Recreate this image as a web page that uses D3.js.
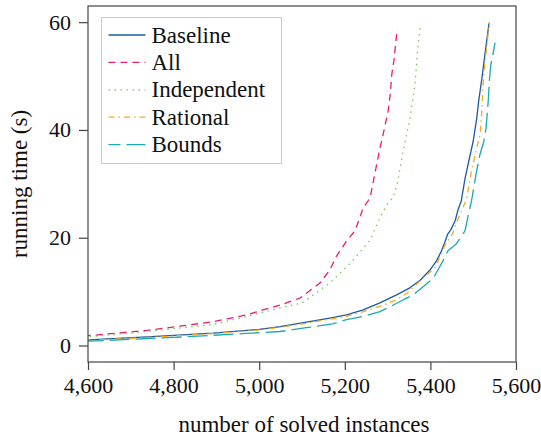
<!DOCTYPE html>
<html>
<head>
<meta charset="utf-8">
<script src="https://cdn.jsdelivr.net/npm/d3@7"></script>
</head>
<body style="margin:0">
<svg id="chart" width="541" height="437"></svg>
<script>
// -------------------------------------------------------------------------
// Data (number of solved instances, running time in seconds)

const seriesNames = ['Baseline', 'All', 'Independent', 'Rational', 'Bounds'];

const baseline = [
  [4590, 0.9], [4612, 1.1], [4738, 1.6], [4892, 2.3], [5000, 3.0], [5049, 3.5],
  [5100, 4.2], [5165, 5.1], [5204, 5.7], [5243, 6.6], [5282, 7.9], [5321, 9.4],
  [5352, 10.7], [5376, 12.1], [5399, 14.0], [5415, 15.8], [5426, 17.6], [5434, 19.2],
  [5440, 20.6], [5448, 21.5], [5458, 23.2], [5465, 25.3], [5472, 26.8], [5481, 31.0],
  [5491, 34.7], [5500, 37.9], [5508, 42.0], [5513, 45.5], [5520, 49.4], [5528, 54.4],
  [5534, 58.0], [5537, 59.8]
];

const all = [
  [4590, 1.8], [4612, 1.9], [4738, 2.8], [4892, 4.4], [4971, 5.7], [5009, 6.6],
  [5049, 7.5], [5095, 8.8], [5142, 11.6], [5165, 14.0], [5180, 16.5], [5205, 19.5],
  [5224, 21.3], [5243, 25.5], [5259, 27.4], [5282, 36.6], [5289, 39.0], [5301, 43.4],
  [5306, 46.5], [5310, 50.4], [5315, 53.0], [5321, 57.7], [5323, 58.7]
];

const independent = [
  [4590, 1.6], [4612, 1.7], [4738, 2.6], [4892, 3.9], [4971, 5.4], [5049, 7.0],
  [5100, 7.9], [5165, 11.6], [5212, 15.2], [5259, 19.5], [5282, 23.7], [5301, 26.5],
  [5313, 27.4], [5324, 30.5], [5336, 36.0], [5352, 42.0], [5364, 48.3], [5371, 55.7],
  [5377, 59.4]
];

const rational = [
  [4590, 0.9], [4738, 1.5], [4892, 2.2], [5000, 2.9], [5049, 3.4], [5100, 4.0],
  [5165, 4.9], [5204, 5.4], [5243, 6.3], [5290, 7.5], [5321, 8.5], [5345, 9.7],
  [5383, 12.5], [5411, 14.5], [5422, 16.4], [5434, 18.6], [5452, 20.8], [5463, 23.2],
  [5473, 25.0], [5481, 26.5], [5485, 27.4], [5496, 32.4], [5508, 36.6], [5516, 39.1],
  [5520, 43.4], [5523, 48.3], [5528, 53.0], [5533, 56.2], [5535, 58.0], [5538, 60.0]
];

const bounds = [
  [4590, 0.8], [4650, 0.95], [4738, 1.3], [4800, 1.5], [4892, 1.9], [4960, 2.2],
  [5049, 2.6], [5110, 3.3], [5172, 4.0], [5204, 4.8], [5243, 5.4], [5282, 6.3],
  [5306, 7.2], [5337, 8.5], [5360, 9.4], [5383, 10.9], [5407, 12.5], [5430, 15.8],
  [5441, 17.6], [5461, 18.9], [5481, 21.3], [5489, 24.4], [5496, 26.8], [5508, 32.4],
  [5516, 35.5], [5525, 37.9], [5530, 40.3], [5535, 45.2], [5538, 49.4], [5541, 52.0],
  [5547, 54.4], [5551, 56.2]
];

const xTicks = [4600, 4800, 5000, 5200, 5400, 5600];
const yTicks = [0, 20, 40, 60];

// -------------------------------------------------------------------------
// Layout

const frame = { left: 88, right: 516, top: 6, bottom: 362 };
const fontFamily = 'Liberation Serif';

const styles = [
  { color: '#1b5aa5', dash: null },
  { color: '#ec1c6e', dash: '7,5' },
  { color: '#7cc450', dash: '1.5,4.5' },
  { color: '#f6a81e', dash: '6,4,1.5,4' },
  { color: '#1aaab4', dash: '20,6' }
];

const x = d3.scaleLinear().domain([4600, 5600]).range([frame.left, frame.right]);
const y = d3.scaleLinear().domain([-3.06, 63.0]).range([frame.bottom, frame.top]);

const svg = d3.select('#chart');

// label helper, font set inline so nothing overrides it
function label(sel, size) {
  return sel
    .style('font-family', fontFamily, 'important')
    .style('font-size', size + 'px')
    .attr('fill', '#111');
}

svg.append('defs')
  .append('clipPath')
  .attr('id', 'plot-clip')
  .append('rect')
  .attr('x', frame.left)
  .attr('y', frame.top)
  .attr('width', frame.right - frame.left)
  .attr('height', frame.bottom - frame.top);

// -------------------------------------------------------------------------
// Axes

const xAxis = d3.axisBottom(x)
  .tickValues(xTicks)
  .tickSize(8)
  .tickPadding(7)
  .tickFormat(d3.format(','));

const gx = svg.append('g')
  .attr('transform', `translate(0,${frame.bottom})`)
  .call(xAxis);

const yAxis = d3.axisLeft(y)
  .tickValues(yTicks)
  .tickSize(9)
  .tickPadding(8);

const gy = svg.append('g')
  .attr('transform', `translate(${frame.left},0)`)
  .call(yAxis);

[gx, gy].forEach(g => {
  g.select('.domain').remove();
  g.selectAll('.tick line').attr('stroke', '#444').attr('stroke-width', 1.2);
  label(g.selectAll('.tick text'), 22);
});

label(svg.append('text'), 23)
  .attr('x', (frame.left + frame.right) / 2 + 2)
  .attr('y', 432)
  .attr('text-anchor', 'middle')
  .text('number of solved instances');

label(svg.append('text'), 23)
  .attr('transform', `translate(27,${(frame.top + frame.bottom) / 2}) rotate(-90)`)
  .attr('text-anchor', 'middle')
  .text('running time (s)');

// -------------------------------------------------------------------------
// Series

const line = d3.line()
  .x(d => x(d[0]))
  .y(d => y(d[1]));

const plot = svg.append('g').attr('clip-path', 'url(#plot-clip)');

[baseline, all, independent, rational, bounds].forEach((data, i) => {
  plot.append('path')
    .datum(data)
    .attr('fill', 'none')
    .attr('stroke-width', 1.3)
    .attr('stroke-linejoin', 'round')
    .attr('stroke', styles[i].color)
    .attr('stroke-dasharray', styles[i].dash)
    .attr('d', line);
});

svg.append('rect')
  .attr('x', frame.left)
  .attr('y', frame.top)
  .attr('width', frame.right - frame.left)
  .attr('height', frame.bottom - frame.top)
  .attr('fill', 'none')
  .attr('stroke', '#444')
  .attr('stroke-width', 1.2);

// -------------------------------------------------------------------------
// Legend

const legend = svg.append('g').attr('transform', 'translate(101.5,17.5)');

legend.append('rect')
  .attr('width', 180)
  .attr('height', 146)
  .attr('fill', '#fff')
  .attr('stroke', '#ccc')
  .attr('stroke-width', 1);

seriesNames.forEach((name, i) => {
  const row = legend.append('g').attr('transform', `translate(0,${17.5 + i * 27.4})`);
  row.append('line')
    .attr('x1', 7)
    .attr('x2', 44)
    .attr('stroke', styles[i].color)
    .attr('stroke-width', 1.3)
    .attr('stroke-dasharray', styles[i].dash)
    .attr('stroke-dashoffset', i === 4 ? 8 : 0);
  label(row.append('text'), 23)
    .attr('x', 50)
    .attr('dy', '0.33em')
    .text(name);
});
</script>
</body>
</html>
